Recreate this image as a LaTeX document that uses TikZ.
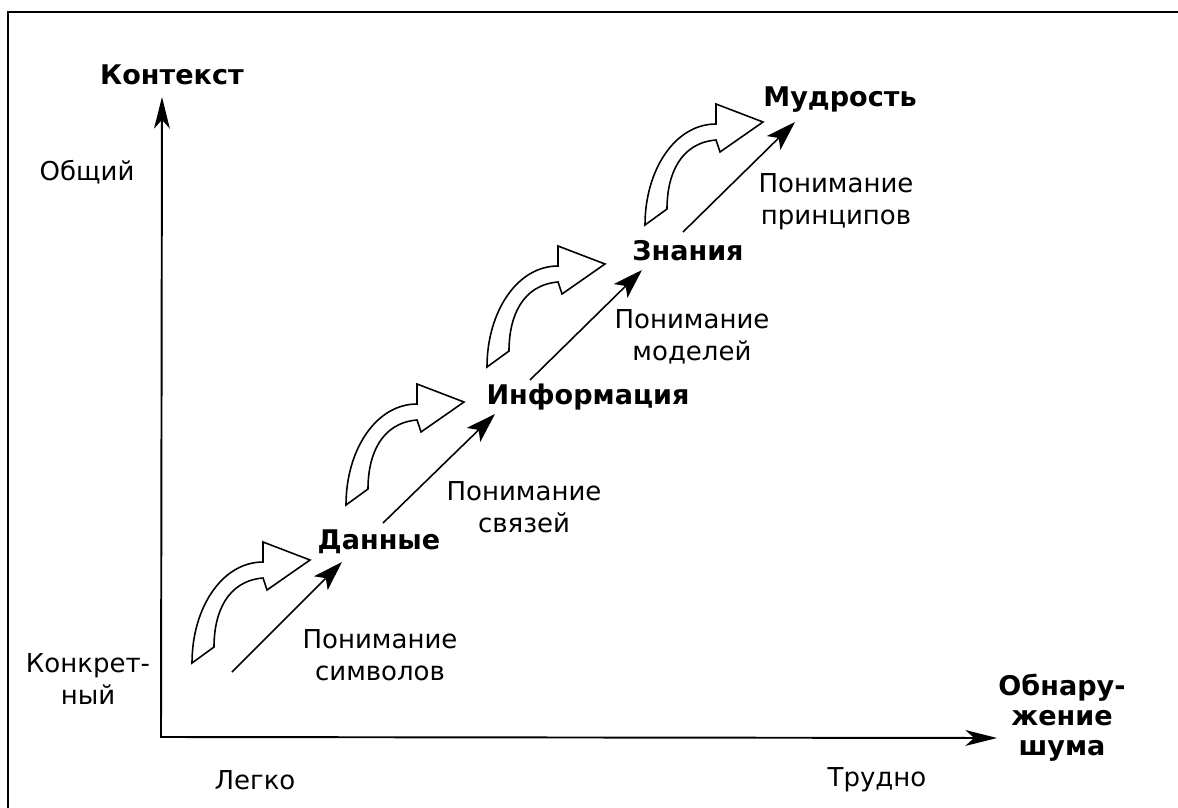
\documentclass[tikz,border=0pt]{standalone}
\usepackage{fontspec}
\setmainfont{DejaVu Sans}
\usetikzlibrary{arrows.meta}
\begin{document}
\begin{tikzpicture}[x=0.02cm,y=-0.02cm,
  lbl/.style={font=\fontsize{14.8}{18.4}\selectfont, align=center, inner sep=0pt},
  blbl/.style={font=\fontsize{15.4}{17}\selectfont\bfseries, align=center, inner sep=0pt},
  axisline/.style={line width=1.1pt, line join=miter,
    {Stealth[length=18pt,width=9pt,inset=5pt]}-{Stealth[length=18pt,width=9pt,inset=5pt]}},
  diagarrow/.style={line width=0.9pt, -{Stealth[length=17pt,width=11pt,inset=4pt]}},
  framestyle/.style={line width=1.4pt},
  bendstyle/.style={line width=0.9pt, line join=miter, fill=white},
  pics/curvedarrow/.style={code={
    \draw[bendstyle] (0,0) .. controls (0,-55) and (30,-101) .. (71,-101)
      -- (71,-121) -- (118,-103) -- (75,-73) -- (71,-85)
      .. controls (35,-82) and (22,-50) .. (22,-16) -- cycle;}}
]
\useasboundingbox (0,0) rectangle (1178,808);
% frame
\draw[framestyle] (8,808) -- (8,12) -- (1178,12);

% axes
\coordinate (origin) at (161,737);
\coordinate (ytip) at (162,97);
\coordinate (xtip) at (997,738);
\draw[axisline] (ytip) -- (origin) -- (xtip);

% axis labels
\node[blbl] (kontekst) at (172,75) {Контекст};
\node[lbl] (obshchiy) at (87,172) {Общий};
\node[lbl] (konkret) at (88,679) {Конкрет-\\ный};
\node[lbl] (legko) at (255,780) {Легко};
\node[lbl] (trudno) at (877,780) {Трудно};
\node[blbl] (shum) at (1062,718) {Обнару-\\жение\\шума};

% stages
\node[blbl] (dannye) at (379,542) {Данные};
\node[blbl] (inform) at (588,397) {Информация};
\node[blbl] (znaniya) at (688,251) {Знания};
\node[blbl] (mudrost) at (840,100) {Мудрость};

\node[lbl] (u1) at (380,655) {Понимание\\символов};
\node[lbl] (u2) at (524,507) {Понимание\\связей};
\node[lbl] (u3) at (692,337) {Понимание\\моделей};
\node[lbl] (u4) at (836,202) {Понимание\\принципов};

% diagonal arrows
\coordinate (s1) at (232,672); \coordinate (e1) at (342,562);
\coordinate (s2) at (383,523); \coordinate (e2) at (495,414);
\coordinate (s3) at (530,380); \coordinate (e3) at (642,270);
\coordinate (s4) at (683,232); \coordinate (e4) at (795,122);
\draw[diagarrow] (s1) -- (e1);
\draw[diagarrow] (s2) -- (e2);
\draw[diagarrow] (s3) -- (e3);
\draw[diagarrow] (s4) -- (e4);

% curved block arrows
\pic at (192,663) {curvedarrow};
\pic at (346,505) {curvedarrow};
\pic at (487,367) {curvedarrow};
\pic at (645,225) {curvedarrow};
\end{tikzpicture}
\end{document}
